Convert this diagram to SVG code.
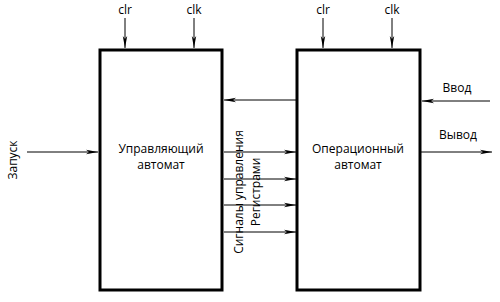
<svg xmlns="http://www.w3.org/2000/svg" width="500" height="302" viewBox="0 0 500 302">
<style>
text{font-family:"Open Sans","DejaVu Sans",sans-serif;font-size:12px;fill:#000}
.box{fill:#fff;stroke:#000;stroke-width:3}
.c{stroke:#000;stroke-width:1;fill:none;marker-end:url(#ah)}
</style>
<defs>
<marker id="ah" viewBox="0 0 12 6" refX="12" refY="3" markerWidth="12" markerHeight="6" markerUnits="userSpaceOnUse" orient="auto">
<path d="M0,0.8 L12,3 L0,5.2 L3,3 Z" fill="#000"/>
</marker>
</defs>
<g id="connectors">
<line class="c" x1="125" y1="18" x2="125" y2="48"/>
<line class="c" x1="194" y1="18" x2="194" y2="48"/>
<line class="c" x1="323" y1="18" x2="323" y2="48"/>
<line class="c" x1="392" y1="18" x2="392" y2="48"/>
<line class="c" x1="296" y1="100" x2="224" y2="100"/>
<line class="c" x1="224" y1="152" x2="296" y2="152"/>
<line class="c" x1="224" y1="179" x2="296" y2="179"/>
<line class="c" x1="224" y1="205" x2="296" y2="205"/>
<line class="c" x1="224" y1="232" x2="296" y2="232"/>
<line class="c" x1="490" y1="101" x2="422" y2="101"/>
<line class="c" x1="421" y1="152" x2="492" y2="152"/>
<line class="c" x1="27" y1="152" x2="98" y2="152"/>
</g>
<g id="control">
<rect class="box" x="100" y="50" width="122" height="240"/>
<text x="161" y="153" text-anchor="middle">Управляющий</text>
<text x="161" y="169" text-anchor="middle">автомат</text>
</g>
<g id="operational">
<rect class="box" x="297" y="50" width="123" height="240"/>
<text x="358" y="153" text-anchor="middle">Операционный</text>
<text x="358" y="169" text-anchor="middle">автомат</text>
</g>
<g id="labels">
<text x="125" y="14" text-anchor="middle">clr</text>
<text x="194" y="14" text-anchor="middle">clk</text>
<text x="323" y="14" text-anchor="middle">clr</text>
<text x="392" y="14" text-anchor="middle">clk</text>
<text x="457" y="92" text-anchor="middle">Ввод</text>
<text x="458" y="139" text-anchor="middle">Вывод</text>
<text transform="translate(17,160) rotate(-90)" text-anchor="middle">Запуск</text>
<text transform="translate(243,192) rotate(-90)" text-anchor="middle">Сигналы управления</text>
<text transform="translate(260,192) rotate(-90)" text-anchor="middle">Регистрами</text>
</g>
</svg>
